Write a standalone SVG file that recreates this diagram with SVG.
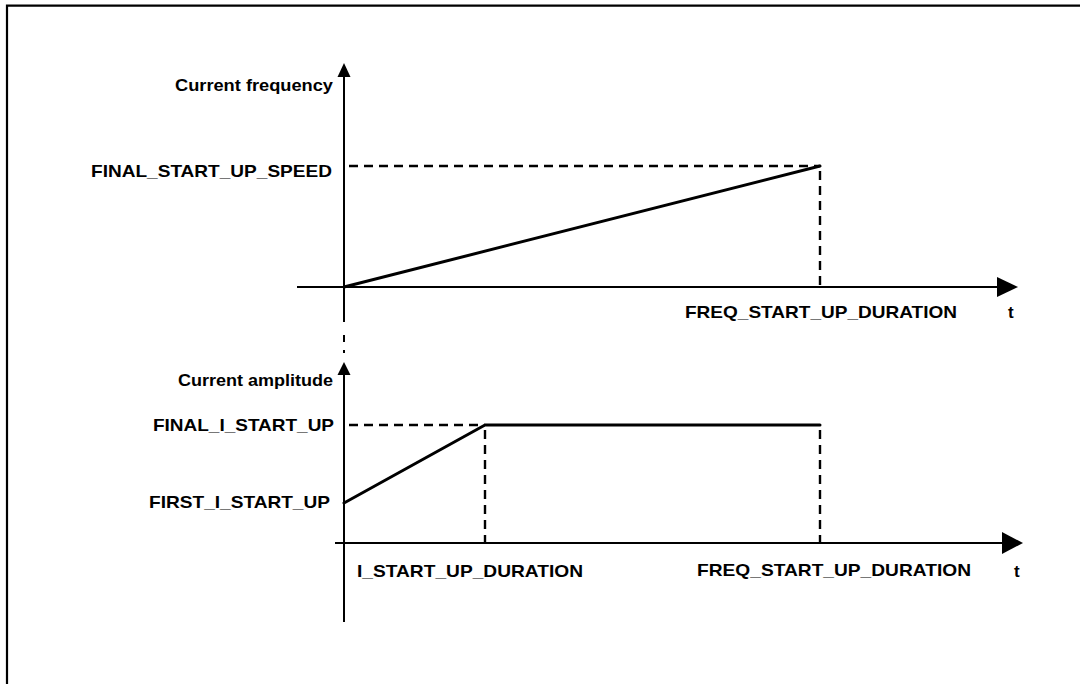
<svg xmlns="http://www.w3.org/2000/svg" width="1080" height="684" viewBox="0 0 1080 684">
  <style>
    .frame { fill: none; stroke: #000; stroke-width: 2.2; }
    .axis { fill: none; stroke: #000; stroke-width: 2; }
    .curve { fill: none; stroke: #000; stroke-width: 3; stroke-linecap: round; stroke-linejoin: round; }
    .guide { fill: none; stroke: #000; stroke-width: 2.4; stroke-dasharray: 9 6; }
    .head { fill: #000; stroke: none; }
    .lbl { font-family: "Liberation Sans", Arial, Helvetica, sans-serif; font-weight: bold; font-size: 17px; fill: #000; }
  </style>
  <rect width="1080" height="684" fill="#fff"/>

  <!-- figure frame -->
  <path class="frame" d="M7,684 V5.7 H1080"/>

  <!-- upper graph: current frequency vs time -->
  <g id="freq-graph">
    <g id="freq-axes">
      <line class="axis" x1="344" y1="72" x2="344" y2="322"/>
      <polygon class="head" points="344,63 337.5,77 350.5,77"/>
      <line class="axis" x1="297" y1="287" x2="1000" y2="287"/>
      <polygon class="head" points="1018,287 997,277 997,297"/>
    </g>
    <g id="freq-guides">
      <line class="guide" x1="349" y1="166" x2="820" y2="166"/>
      <line class="guide" x1="820" y1="171" x2="820" y2="287"/>
    </g>
    <g id="freq-ramp">
      <line class="curve" x1="344" y1="287" x2="820" y2="166"/>
    </g>
    <g id="freq-labels">
      <text class="lbl" x="175" y="90.5" textLength="158" lengthAdjust="spacingAndGlyphs">Current frequency</text>
      <text class="lbl" x="91" y="177" textLength="241" lengthAdjust="spacingAndGlyphs">FINAL_START_UP_SPEED</text>
      <text class="lbl" x="685" y="318" textLength="272" lengthAdjust="spacingAndGlyphs">FREQ_START_UP_DURATION</text>
      <text class="lbl" x="1008" y="318">t</text>
    </g>
  </g>

  <!-- dash-dot link between the two time bases -->
  <g id="link">
    <line class="axis" x1="344" y1="335" x2="344" y2="342"/>
    <line class="axis" x1="344" y1="350" x2="344" y2="353"/>
  </g>

  <!-- lower graph: current amplitude vs time -->
  <g id="amp-graph">
    <g id="amp-axes">
      <line class="axis" x1="344" y1="372" x2="344" y2="622"/>
      <polygon class="head" points="344,362 337.5,375 350.5,375"/>
      <line class="axis" x1="335" y1="543" x2="1004" y2="543"/>
      <polygon class="head" points="1023,543 1002,532 1002,554"/>
    </g>
    <g id="amp-guides">
      <line class="guide" x1="349" y1="425" x2="485" y2="425"/>
      <line class="guide" x1="485" y1="430" x2="485" y2="543"/>
      <line class="guide" x1="820" y1="430" x2="820" y2="543"/>
    </g>
    <g id="amp-profile">
      <polyline class="curve" points="344,503 485,425 820,425"/>
    </g>
    <g id="amp-labels">
      <text class="lbl" x="178" y="386" textLength="155" lengthAdjust="spacingAndGlyphs">Current amplitude</text>
      <text class="lbl" x="153" y="431" textLength="181" lengthAdjust="spacingAndGlyphs">FINAL_I_START_UP</text>
      <text class="lbl" x="149" y="508" textLength="181" lengthAdjust="spacingAndGlyphs">FIRST_I_START_UP</text>
      <text class="lbl" x="357" y="577" textLength="226" lengthAdjust="spacingAndGlyphs">I_START_UP_DURATION</text>
      <text class="lbl" x="697" y="576" textLength="274" lengthAdjust="spacingAndGlyphs">FREQ_START_UP_DURATION</text>
      <text class="lbl" x="1014" y="577">t</text>
    </g>
  </g>
</svg>
